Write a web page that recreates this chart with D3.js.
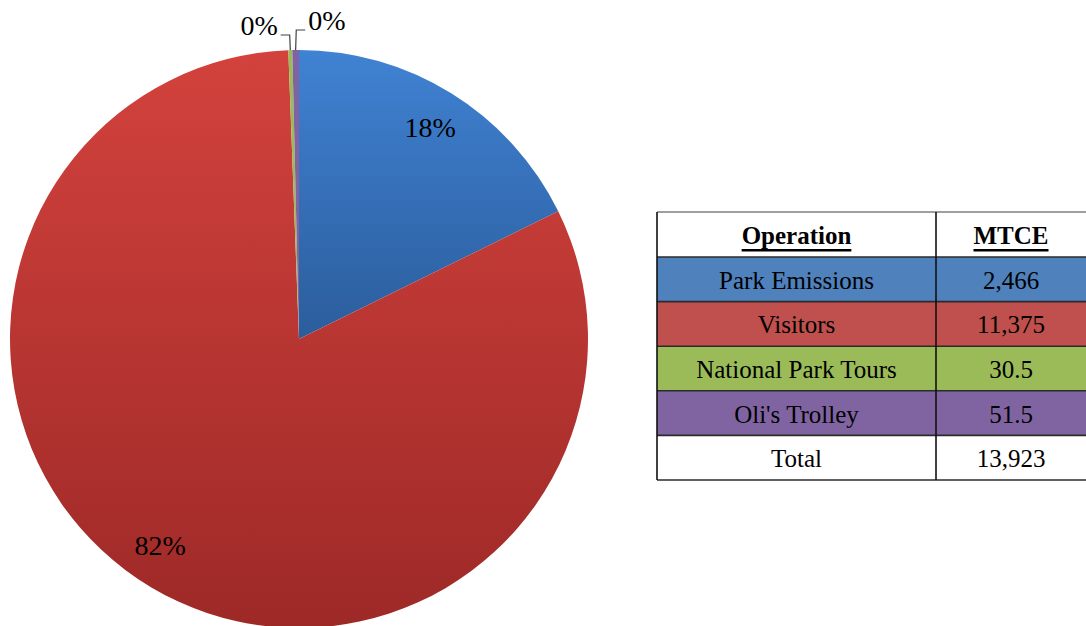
<!DOCTYPE html>
<html>
<head>
<meta charset="utf-8">
<script src="https://cdn.jsdelivr.net/npm/d3@7"></script>
<style>
  html, body { margin: 0; padding: 0; background: #ffffff; }
  svg { display: block; }
  text { font-family: "Liberation Serif", "Times New Roman", serif; fill: #000; }
</style>
</head>
<body>
<svg id="chart" width="1086" height="626"></svg>
<script>
// Emissions by operation (MTCE)
const operations = ["Park Emissions", "Visitors", "National Park Tours", "Oli's Trolley"];
const mtce = [2466, 11375, 30.5, 51.5];
const mtceLabels = ["2,466", "11,375", "30.5", "51.5"];
const totalLabel = "13,923";
const tableHeaders = ["Operation", "MTCE"];

// Slice fills: top / bottom gradient stops; flat fills for table rows
const sliceTop = ["#4082d3", "#d3423d", "#9bbb59", "#8064a2"];
const sliceBottom = ["#2b5d9c", "#9d2927", "#9bbb59", "#8064a2"];
const rowFill = ["#4f81bd", "#c0504d", "#9bbb59", "#8064a2"];

const svg = d3.select("#chart");
const cx = 299, cy = 339, r = 289;

const defs = svg.append("defs");
operations.forEach((op, i) => {
  const g = defs.append("linearGradient")
    .attr("id", "grad" + i)
    .attr("x1", 0).attr("y1", 0).attr("x2", 0).attr("y2", 1);
  g.append("stop").attr("offset", "0%").attr("stop-color", sliceTop[i]);
  g.append("stop").attr("offset", "100%").attr("stop-color", sliceBottom[i]);
});

const total = d3.sum(mtce);
const pie = d3.pie().sort(null).value(d => d)(mtce);
const arc = d3.arc().innerRadius(0).outerRadius(r);
const labelArc = d3.arc().innerRadius(r * 0.86).outerRadius(r * 0.86);

const pieG = svg.append("g").attr("transform", `translate(${cx},${cy})`);
pieG.selectAll("path.slice")
  .data(pie)
  .join("path")
  .attr("class", "slice")
  .attr("d", arc)
  .attr("fill", (d, i) => `url(#grad${i})`);

const pct = v => Math.round(v / total * 100) + "%";

// Large slices: label inside the slice (small nudge along the arc)
const labelNudge = [0, 0.055];
pie.forEach((d, i) => {
  if (d.value / total < 0.05) return;
  const mid = (d.startAngle + d.endAngle) / 2 + (labelNudge[i] || 0);
  const rr = r * 0.86;
  const x = rr * Math.sin(mid), y = -rr * Math.cos(mid);
  pieG.append("text")
    .attr("x", x).attr("y", y)
    .attr("text-anchor", "middle")
    .attr("dominant-baseline", "central")
    .attr("font-size", 28)
    .text(pct(d.value));
});

// Tiny slices: leader lines to labels above the pie
const small = pie.filter(d => d.value / total < 0.05);
const leaderLift = [15, 20];
small.forEach((d, k) => {
  const mid = (d.startAngle + d.endAngle) / 2;
  const x0 = r * Math.sin(mid), y0 = -r * Math.cos(mid);
  const yTop = -r - leaderLift[k];
  const dir = k === 0 ? -1 : 1;
  const x1 = x0 + dir * 0.6;
  const x2 = x1 + dir * 9;
  pieG.append("path")
    .attr("d", `M${x0},${y0}L${x1},${yTop}L${x2},${yTop}`)
    .attr("fill", "none")
    .attr("stroke", "#404040")
    .attr("stroke-width", 1.2);
  pieG.append("text")
    .attr("x", x2 + dir * 3)
    .attr("y", yTop - 10)
    .attr("text-anchor", dir < 0 ? "end" : "start")
    .attr("dominant-baseline", "central")
    .attr("font-size", 28)
    .text(pct(d.value));
});

// Summary table
const tx = 657, colX = 936, tRight = 1090;
const headerTop = 212, headerH = 45, rowH = 44.6;
const rowsY = d3.range(operations.length + 1).map(i => headerTop + headerH + i * rowH);
const tBottom = rowsY[rowsY.length - 1] + rowH;
const tbl = svg.append("g");

// row backgrounds
tbl.selectAll("rect.row")
  .data(operations)
  .join("rect")
  .attr("class", "row")
  .attr("x", tx).attr("y", (d, i) => rowsY[i])
  .attr("width", tRight - tx).attr("height", rowH)
  .attr("fill", (d, i) => rowFill[i]);

// horizontal rules
const hLines = [headerTop, ...rowsY, tBottom];
tbl.selectAll("line.h")
  .data(hLines)
  .join("line")
  .attr("class", "h")
  .attr("x1", tx).attr("x2", tRight)
  .attr("y1", d => d).attr("y2", d => d)
  .attr("stroke", (d, i) => i === 0 ? "#7f7f7f" : "#2b2b2b")
  .attr("stroke-width", 1.6);

// vertical rules
[tx, colX].forEach(x => {
  tbl.append("line")
    .attr("x1", x).attr("x2", x)
    .attr("y1", headerTop).attr("y2", tBottom)
    .attr("stroke", "#111").attr("stroke-width", 1.6);
});

const c1 = (tx + colX) / 2, c2 = (colX + tRight) / 2 - 2;

// header
[c1, c2].forEach((x, i) => {
  tbl.append("text")
    .attr("x", x).attr("y", headerTop + headerH / 2 + 1)
    .attr("text-anchor", "middle")
    .attr("dominant-baseline", "central")
    .attr("font-size", 25)
    .attr("font-weight", "bold")
    .attr("text-decoration", "underline")
    .text(tableHeaders[i]);
});

const cells = operations.map((op, i) => [op, mtceLabels[i]]).concat([["Total", totalLabel]]);
cells.forEach((row, i) => {
  const yMid = rowsY[i] + rowH / 2 + 1;
  tbl.append("text")
    .attr("x", c1).attr("y", yMid)
    .attr("text-anchor", "middle").attr("dominant-baseline", "central")
    .attr("font-size", 25).text(row[0]);
  tbl.append("text")
    .attr("x", c2).attr("y", yMid)
    .attr("text-anchor", "middle").attr("dominant-baseline", "central")
    .attr("font-size", 25).text(row[1]);
});
</script>
</body>
</html>
